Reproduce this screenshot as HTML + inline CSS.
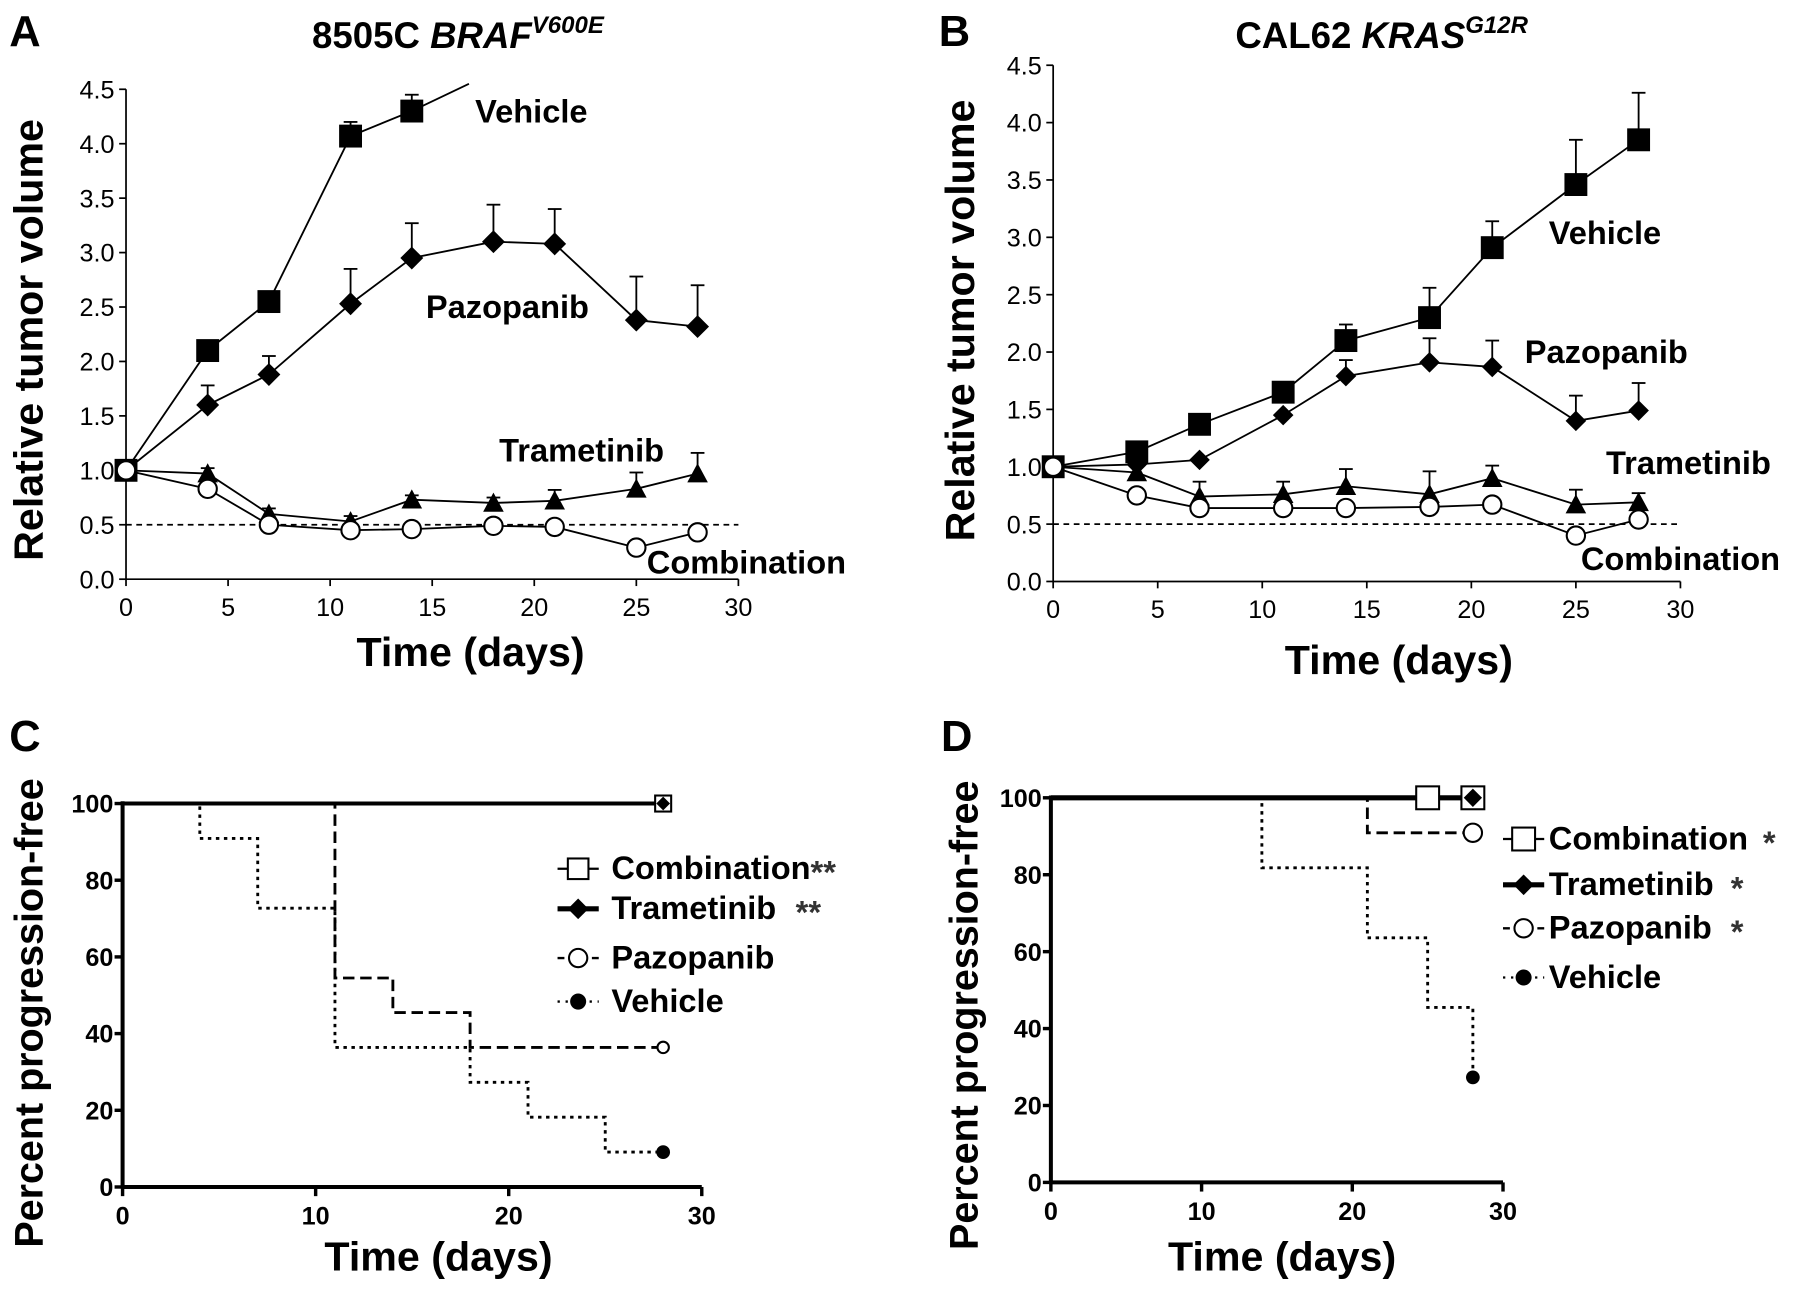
<!DOCTYPE html>
<html><head><meta charset="utf-8"><style>
html,body{margin:0;padding:0;background:#fff}
svg{display:block}
text{font-family:"Liberation Sans",Arial,sans-serif;font-weight:bold;fill:#000}
.tk{font-family:"Liberation Sans Narrow","Liberation Sans",sans-serif;font-weight:normal;font-size:22px}
.tkb{font-family:"Liberation Sans Narrow","Liberation Sans",sans-serif;font-weight:bold;font-size:22px}
.lab{font-size:28.5px}
.ax{font-size:36px}
.ax2{font-size:34.5px}
</style></head><body>
<svg id="fig" width="1795" height="1290" viewBox="0 0 1568 1127" xmlns="http://www.w3.org/2000/svg">
<g id="root"></g>
</svg>
<script>
// ---------- Data ----------
const daysAB = [0,4,7,11,14,18,21,25,28];
const aVehDays = [0,4,7,11,14];
const aVeh = [1.0,2.1,2.55,4.07,4.3];
const aVehErr = [1.0,2.1,2.55,4.2,4.45];
const aPaz = [1.0,1.6,1.88,2.53,2.95,3.1,3.08,2.38,2.32];
const aPazErr = [1.0,1.78,2.05,2.85,3.27,3.44,3.4,2.78,2.7];
const aTra = [1.0,0.97,0.6,0.53,0.73,0.7,0.72,0.83,0.97];
const aTraErr = [1.0,1.02,0.65,0.58,0.77,0.75,0.82,0.98,1.16];
const aCom = [1.0,0.83,0.5,0.45,0.46,0.49,0.48,0.29,0.43];
const bVeh = [1.0,1.13,1.37,1.65,2.1,2.3,2.91,3.46,3.85];
const bVehErr = [1.0,1.18,1.42,1.7,2.24,2.56,3.14,3.85,4.26];
const bPaz = [1.0,1.02,1.06,1.45,1.79,1.91,1.87,1.4,1.49];
const bPazErr = [1.0,1.02,1.06,1.45,1.93,2.12,2.1,1.62,1.73];
const bTra = [1.0,0.95,0.74,0.76,0.83,0.76,0.9,0.67,0.69];
const bTraErr = [1.0,0.95,0.87,0.87,0.98,0.96,1.01,0.8,0.77];
const bCom = [1.0,0.75,0.64,0.64,0.64,0.65,0.67,0.4,0.54];
const volTicks = ["0.0","0.5","1.0","1.5","2.0","2.5","3.0","3.5","4.0","4.5"];
const dayTicksAB = ["0","5","10","15","20","25","30"];
const survTicksY = ["0","20","40","60","80","100"];
const survTicksX = ["0","10","20","30"];
const cPazT = [0,11,14,18,28];
const cPazS = [100,54.5,45.5,36.4,36.4];
const cVehT = [0,4,7,11,18,21,25,28];
const cVehS = [100,90.9,72.7,36.4,27.3,18.2,9.1,9.1];
const dPazT = [0,21,28];
const dPazS = [100,90.9,90.9];
const dVehT = [0,14,21,25,28];
const dVehS = [100,81.8,63.6,45.5,27.3];

const NS="http://www.w3.org/2000/svg";
const root=document.getElementById('root');
function el(tag,attrs,parent,txt){const e=document.createElementNS(NS,tag);for(const k in attrs)e.setAttribute(k,attrs[k]);if(txt!==undefined)e.textContent=txt;(parent||root).appendChild(e);return e;}
function grp(name){const g=el('g',{});


return g;}

function marker(g,type,cx,cy,s){
  let m;
  if(type==='square'){m=el('rect',{x:cx-s,y:cy-s,width:2*s,height:2*s,fill:'#000'},g);}
  else if(type==='diamond'){m=el('polygon',{points:`${cx},${cy-s} ${cx+s},${cy} ${cx},${cy+s} ${cx-s},${cy}`,fill:'#000'},g);}
  else if(type==='triangle'){m=el('polygon',{points:`${cx},${cy-s} ${cx+s},${cy+s*0.85} ${cx-s},${cy+s*0.85}`,fill:'#000'},g);}
  else if(type==='circle'){m=el('circle',{cx:cx,cy:cy,r:s,fill:'#fff',stroke:'#000','stroke-width':1.8},g);}
  else if(type==='dot'){m=el('circle',{cx:cx,cy:cy,r:s,fill:'#000'},g);}
  else if(type==='osquare'){m=el('rect',{x:cx-s,y:cy-s,width:2*s,height:2*s,fill:'#fff',stroke:'#000','stroke-width':1.8},g);}
  
  
  return m;
}

function volPanel(p){
  const g=grp(p.name);
  const X=d=>p.x0+(p.x1-p.x0)*d/30;
  const Y=v=>p.y0-(p.y0-p.y1)*v/4.5;
  el('line',{x1:p.x0,y1:p.y1,x2:p.x0,y2:p.y0,stroke:'#000','stroke-width':1.5},g);
  el('line',{x1:p.x0,y1:p.y0,x2:p.x1,y2:p.y0,stroke:'#000','stroke-width':1.5},g);
  volTicks.forEach((t,i)=>{const y=Y(+t);el('line',{x1:p.x0-6,y1:y,x2:p.x0,y2:y,stroke:'#000','stroke-width':1.5},g);
    const tx=el('text',{x:p.x0-10,y:y+8,'text-anchor':'end',class:'tk'},g,t);
    
    });
  dayTicksAB.forEach(t=>{const x=X(+t);el('line',{x1:x,y1:p.y0,x2:x,y2:p.y0+6,stroke:'#000','stroke-width':1.5},g);
    const tx=el('text',{x:x,y:p.y0+32,'text-anchor':'middle',class:'tk'},g,t);
    
    });
  const dl=el('line',{x1:p.x0,y1:Y(0.5),x2:p.x1,y2:Y(0.5),stroke:'#000','stroke-width':1.5,'stroke-dasharray':'5,4'},g);
  
  
  p.series.forEach(s=>{
    const sg=el('g',{},g);
    
    
    let pts=s.days.map((d,i)=>X(d)+','+Y(s.vals[i]));
    if(s.extra) pts.push(X(s.extra[0])+','+Y(s.extra[1]));
    el('polyline',{points:pts.join(' '),fill:'none',stroke:'#000','stroke-width':1.6},sg);
    if(s.err) s.days.forEach((d,i)=>{if(s.err[i]>s.vals[i]+0.01){const x=X(d);
      el('line',{x1:x,y1:Y(s.vals[i]),x2:x,y2:Y(s.err[i]),stroke:'#000','stroke-width':1.6},sg);
      el('line',{x1:x-6,y1:Y(s.err[i]),x2:x+6,y2:Y(s.err[i]),stroke:'#000','stroke-width':1.6},sg);}});
    s.days.forEach((d,i)=>marker(sg,s.m,X(d),Y(s.vals[i]),s.sz));
  });
  p.labels.forEach(l=>{const t=el('text',{x:l[1],y:l[2],class:'lab'},g,l[0]);
    
    });
  const yl=el('text',{x:0,y:0,class:'ax','text-anchor':'middle',transform:`translate(${p.ylx},${p.yly}) rotate(-90)`},g,'Relative tumor volume');
  
  
  const xl=el('text',{x:p.xlx,y:p.xly,class:'ax','text-anchor':'middle'},g,'Time (days)');
  
  
  const pl=el('text',{x:p.plx,y:40,style:'font-size:38px'},g,p.letter);
  
  
  const tt=el('text',{x:p.tx,y:42,style:'font-size:32px','text-anchor':'middle'},g);
  
  
  el('tspan',{},tt,p.t1);
  el('tspan',{'font-style':'italic'},tt,p.t2);
  el('tspan',{'font-style':'italic',dy:-13,style:'font-size:21px'},tt,p.t3);
}

volPanel({name:'panel-a',letter:'A',plx:8,x0:110,x1:645,y0:506,y1:78,tx:400,t1:'8505C ',t2:'BRAF',t3:'V600E',
  ylx:37,yly:297,xlx:411,xly:582,
  series:[
    {name:'vehicle-series',days:aVehDays,vals:aVeh,err:aVehErr,m:'square',sz:10,extra:[16.8,4.55]},
    {name:'pazopanib-series',days:daysAB,vals:aPaz,err:aPazErr,m:'diamond',sz:10},
    {name:'trametinib-series',days:daysAB,vals:aTra,err:aTraErr,m:'triangle',sz:9},
    {name:'combination-series',days:daysAB,vals:aCom,m:'circle',sz:8}],
  labels:[['Vehicle',415,107],['Pazopanib',372,278],['Trametinib',436,403],['Combination',565,501]]});
volPanel({name:'panel-b',letter:'B',plx:820,x0:920,x1:1468,y0:508,y1:57,tx:1207,t1:'CAL62 ',t2:'KRAS',t3:'G12R',
  ylx:851,yly:280,xlx:1222,xly:589,
  series:[
    {name:'vehicle-series',days:daysAB,vals:bVeh,err:bVehErr,m:'square',sz:10},
    {name:'pazopanib-series',days:daysAB,vals:bPaz,err:bPazErr,m:'diamond',sz:9},
    {name:'trametinib-series',days:daysAB,vals:bTra,err:bTraErr,m:'triangle',sz:9},
    {name:'combination-series',days:daysAB,vals:bCom,m:'circle',sz:8}],
  labels:[['Vehicle',1353,213],['Pazopanib',1332,317],['Trametinib',1403,414],['Combination',1381,498]]});

function survPanel(p){
  const g=grp(p.name);
  const X=d=>p.x0+(p.x1-p.x0)*d/30;
  const Y=v=>p.y0-(p.y0-p.y1)*v/100;
  el('line',{x1:p.x0,y1:Y(100)-2,x2:p.x0,y2:p.y0+1.5,stroke:'#000','stroke-width':3.5},g);
  el('line',{x1:p.x0,y1:p.y0,x2:p.x1,y2:p.y0,stroke:'#000','stroke-width':3.5},g);
  survTicksY.forEach(t=>{const y=Y(+t);el('line',{x1:p.x0-7,y1:y,x2:p.x0,y2:y,stroke:'#000','stroke-width':3},g);
    const tx=el('text',{x:p.x0-8,y:y+8,'text-anchor':'end',class:'tkb'},g,t);
    
    });
  survTicksX.forEach(t=>{const x=X(+t);el('line',{x1:x,y1:p.y0,x2:x,y2:p.y0+8,stroke:'#000','stroke-width':3},g);
    const tx=el('text',{x:x,y:p.y0+33,'text-anchor':'middle',class:'tkb'},g,t);
    
    });
  p.series.forEach(s=>{
    const sg=el('g',{},g);
    
    
    let d='M'+X(s.t[0])+','+Y(s.s[0]);
    for(let i=1;i<s.t.length;i++){d+=' L'+X(s.t[i])+','+Y(s.s[i-1])+' L'+X(s.t[i])+','+Y(s.s[i]);}
    el('path',{d:d,fill:'none',stroke:'#000','stroke-width':s.w,'stroke-dasharray':s.dash},sg);
    (s.marks||[]).forEach(mk=>marker(sg,mk[0],X(mk[1]),Y(mk[2]),mk[3]));
  });
  p.legend.forEach((L,i)=>{
    const lg=el('g',{},g);
    
    
    el('line',{x1:p.lx,y1:L.y-9,x2:p.lx+36,y2:L.y-9,stroke:'#000','stroke-width':L.w,'stroke-dasharray':L.dash},lg);
    marker(lg,L.m,p.lx+18,L.y-9,L.sz);
    el('text',{x:p.lx+(p.tdx||47),y:L.y,class:'lab'},lg,L.text);
    if(L.star) el('text',{x:L.sx,y:L.y+4,class:'lab',style:'fill:#333'},lg,L.star);
  });
  const yl=el('text',{x:0,y:0,class:'ax2','text-anchor':'middle',transform:`translate(${p.ylx},${p.yly}) rotate(-90)`},g,'Percent progression-free');
  
  
  const xl=el('text',{x:p.xlx,y:p.xly,class:'ax','text-anchor':'middle'},g,'Time (days)');
  
  
  const pl=el('text',{x:p.plx,y:656,style:'font-size:38px'},g,p.letter);
  
  
}

survPanel({name:'panel-c',letter:'C',plx:8,x0:107,x1:613,y0:1037,y1:702,ylx:37,yly:885,xlx:383,xly:1110,
  lx:487,
  series:[
    {name:'vehicle-series',t:cVehT,s:cVehS,w:2.5,dash:'3,4',marks:[['dot',28,9.1,6]]},
    {name:'pazopanib-series',t:cPazT,s:cPazS,w:2.5,dash:'10,5',marks:[['circle',28,36.4,5]]},
    {name:'combination-series',t:[0,28],s:[100,100],w:3.5,dash:'',marks:[['osquare',28,100,7],['diamond',28,100,6]]}],
  legend:[
    {text:'Combination',m:'osquare',sz:9,w:2,dash:'',y:768,star:'**',sx:708},
    {text:'Trametinib',m:'diamond',sz:9,w:4.5,dash:'',y:803,star:'**',sx:695},
    {text:'Pazopanib',m:'circle',sz:8,w:2,dash:'6,4',y:846},
    {text:'Vehicle',m:'dot',sz:7,w:2,dash:'2,5',y:884}]});
survPanel({name:'panel-d',letter:'D',plx:822,x0:918,x1:1313,y0:1033,y1:697,ylx:854,yly:887,xlx:1120,xly:1110,
  lx:1313,tdx:40,
  series:[
    {name:'vehicle-series',t:dVehT,s:dVehS,w:2.5,dash:'3,4',marks:[['dot',28,27.3,6]]},
    {name:'pazopanib-series',t:dPazT,s:dPazS,w:2.5,dash:'10,5',marks:[['circle',28,90.9,8]]},
    {name:'combination-series',t:[0,28],s:[100,100],w:4.5,dash:'',marks:[['osquare',25,100,10],['osquare',28,100,10],['diamond',28,100,8]]}],
  legend:[
    {text:'Combination',m:'osquare',sz:10,w:2,dash:'',y:742,star:'*',sx:1540},
    {text:'Trametinib',m:'diamond',sz:9,w:4.5,dash:'',y:782,star:'*',sx:1512},
    {text:'Pazopanib',m:'circle',sz:8,w:2,dash:'6,4',y:820,star:'*',sx:1512},
    {text:'Vehicle',m:'dot',sz:7,w:2,dash:'2,5',y:863}]});
</script>
</body></html>
